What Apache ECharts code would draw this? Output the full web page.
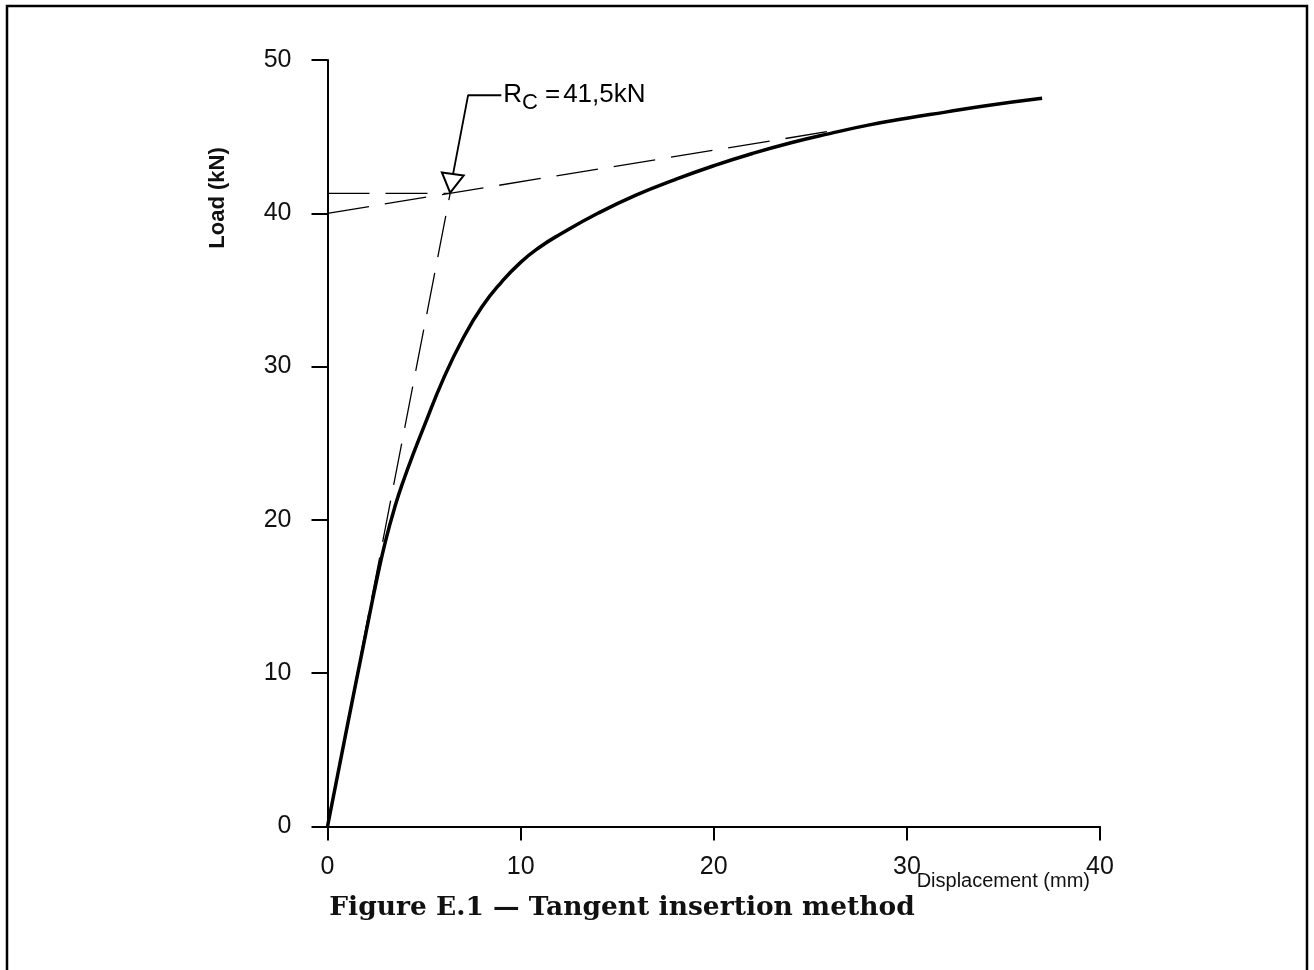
<!DOCTYPE html>
<html>
<head>
<meta charset="utf-8">
<script src="https://cdn.jsdelivr.net/npm/echarts@6/dist/echarts.min.js"></script>
<style>
html,body{margin:0;padding:0;background:#fff;}
#chart{width:1314px;height:970px;}
</style>
</head>
<body>
<div id="chart"></div>
<script>
// ---- data ----
const curveX = [0, 1, 2, 2.5, 3, 3.5, 4, 4.5, 5, 6, 7, 8, 9, 10, 11, 12, 14, 16, 18, 20, 22, 24, 26, 28, 30, 32, 34, 37];
const curveY = [0, 6.4, 12.7, 15.8, 18.6, 20.9, 22.8, 24.5, 26.1, 29.2, 31.8, 33.9, 35.5, 36.8, 37.8, 38.6, 40.0, 41.2, 42.2, 43.1, 43.9, 44.6, 45.2, 45.75, 46.2, 46.6, 47.0, 47.5];
const tangentInitX = [0, 6.35];
const tangentInitY = [0, 41.3];
const tangentLateX = [0, 26];
const tangentLateY = [40, 45.35];
const rcLineX = [0, 6.35];
const rcLineY = [41.3, 41.3];
const leaderX = [9.0, 7.28, 6.5];
const leaderY = [47.7, 47.7, 42.55];
const arrowPoint = [6.42, 41.95];
const xTicks = [0, 10, 20, 30, 40];
const yTicks = [0, 10, 20, 30, 40, 50];
const rcText = '41,5kN';

const zip = (xs, ys) => xs.map((x, i) => [x, ys[i]]);
const chart = echarts.init(document.getElementById('chart'));
const FONT = '"Liberation Sans", Arial, sans-serif';
const dash = [42, 16];

chart.setOption({
  animation: false,
  backgroundColor: '#fff',
  grid: { left: 327.5, right: 214, top: 60, bottom: 143.5, containLabel: false },
  xAxis: {
    type: 'value', min: xTicks[0], max: xTicks[xTicks.length - 1], interval: 10,
    axisLine: { show: true, onZero: false, lineStyle: { color: '#000', width: 2 } },
    axisTick: { show: true, inside: false, length: 14, lineStyle: { color: '#000', width: 2 } },
    axisLabel: { color: '#111', fontSize: 25, fontFamily: FONT, margin: 28 },
    splitLine: { show: false }
  },
  yAxis: {
    type: 'value', min: yTicks[0], max: yTicks[yTicks.length - 1], interval: 10,
    axisLine: { show: true, onZero: false, lineStyle: { color: '#000', width: 2 } },
    axisTick: { show: true, inside: false, length: 16, lineStyle: { color: '#000', width: 2 } },
    axisLabel: { color: '#111', fontSize: 25, fontFamily: FONT, margin: 36 },
    splitLine: { show: false }
  },
  graphic: [
    { type: 'rect', shape: { x: 7, y: 6, width: 1300, height: 1100 }, style: { fill: 'none', stroke: '#000', lineWidth: 2.5 }, silent: true },
    { type: 'text', x: 218, y: 198, rotation: Math.PI / 2,
      style: { text: 'Load (kN)', font: 'bold 22px ' + FONT, fill: '#111', textAlign: 'center', textVerticalAlign: 'middle' } },
    { type: 'text', x: 1090, y: 881,
      style: { text: 'Displacement (mm)', font: '20px ' + FONT, fill: '#111', textAlign: 'right', textVerticalAlign: 'middle' } },
    { type: 'text', x: 622, y: 908,
      style: { text: 'Figure E.1 \u2014 Tangent insertion method', font: 'bold 26.5px "DejaVu Serif", serif', fill: '#111', textAlign: 'center', textVerticalAlign: 'middle' } }
  ],
  series: [
    { name: 'curve', type: 'line', data: zip(curveX, curveY), showSymbol: false, smooth: 0.5,
      lineStyle: { color: '#000', width: 3.5 }, z: 5 },
    { name: 'tangent1', type: 'line', data: zip(tangentInitX, tangentInitY), showSymbol: false,
      lineStyle: { color: '#000', width: 1.3, type: dash }, z: 3 },
    { name: 'tangent2', type: 'line', data: zip(tangentLateX, tangentLateY), showSymbol: false,
      lineStyle: { color: '#000', width: 1.3, type: dash }, z: 3 },
    { name: 'rc', type: 'line', data: zip(rcLineX, rcLineY), showSymbol: false,
      lineStyle: { color: '#000', width: 1.3, type: dash }, z: 3 },
    { name: 'leader', type: 'line', data: zip(leaderX, leaderY), showSymbol: false,
      lineStyle: { color: '#000', width: 1.8 }, z: 6 },
    { name: 'arrow', type: 'scatter', data: [arrowPoint], symbol: 'triangle', symbolSize: [22, 19], symbolRotate: 172,
      itemStyle: { color: '#fff', borderColor: '#000', borderWidth: 2, opacity: 1 }, z: 7 },
    { name: 'rcLabel', type: 'scatter', data: [[leaderX[0], leaderY[0]]], symbolSize: 0, z: 8,
      itemStyle: { opacity: 1 },
      label: { show: true, position: 'right', distance: 2, color: '#000',
        formatter: '{r|R}{s|C}{e|=}{n|' + rcText + '}',
        rich: {
          r: { fontSize: 26, fontFamily: FONT, color: '#000' },
          s: { fontSize: 22, fontFamily: FONT, color: '#000', padding: [16, 0, 0, 0] },
          e: { fontSize: 26, fontFamily: FONT, color: '#000', padding: [0, 3, 0, 7] },
          n: { fontSize: 26, fontFamily: FONT, color: '#000' }
        } } }
  ]
});
</script>
</body>
</html>
